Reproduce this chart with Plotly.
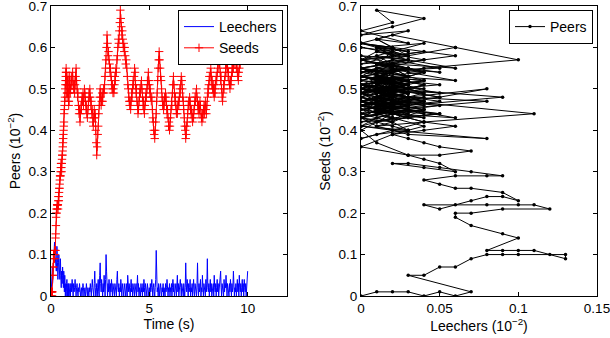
import numpy as np
import plotly.graph_objects as go

# sampling grid of the simulation (s): every 0.01 s during start-up, every 0.025 s afterwards
time_s = np.round(np.concatenate([np.linspace(0, 0.99, 100), np.linspace(1, 10, 361)]), 3)

seeds = [
    # 0.00 - 0.99 s
    0.00, 0.01, 0.01, 0.01, 0.00, 0.01, 0.00, 0.01, 0.05, 0.05,
    0.07, 0.07, 0.09, 0.10, 0.10, 0.10, 0.10, 0.10, 0.09, 0.11,
    0.11, 0.11, 0.11, 0.14, 0.15, 0.17, 0.19, 0.20, 0.20, 0.21,
    0.21, 0.22, 0.22, 0.22, 0.22, 0.22, 0.21, 0.23, 0.24, 0.24,
    0.23, 0.25, 0.26, 0.26, 0.27, 0.28, 0.29, 0.29, 0.29, 0.30,
    0.31, 0.32, 0.32, 0.31, 0.30, 0.32, 0.33, 0.34, 0.34, 0.35,
    0.36, 0.37, 0.38, 0.39, 0.40, 0.41, 0.42, 0.44, 0.45, 0.46,
    0.47, 0.48, 0.50, 0.51, 0.52, 0.53, 0.54, 0.55, 0.54, 0.52,
    0.51, 0.49, 0.48, 0.49, 0.51, 0.52, 0.53, 0.51, 0.49, 0.47,
    0.46, 0.47, 0.49, 0.51, 0.52, 0.53, 0.52, 0.50, 0.49, 0.50,
    # 1.000 - 1.975 s
    0.50, 0.51, 0.53, 0.52, 0.54, 0.51, 0.50, 0.52, 0.49, 0.51,
    0.53, 0.55, 0.52, 0.50, 0.48, 0.49, 0.46, 0.44, 0.45, 0.42,
    0.44, 0.46, 0.45, 0.48, 0.47, 0.49, 0.46, 0.48, 0.50, 0.49,
    0.47, 0.45, 0.46, 0.44, 0.43, 0.45, 0.47, 0.49, 0.48, 0.50,
    # 2.000 - 2.975 s
    0.48, 0.46, 0.47, 0.44, 0.45, 0.42, 0.41, 0.43, 0.45, 0.43,
    0.44, 0.40, 0.37, 0.34, 0.36, 0.39, 0.41, 0.44, 0.46, 0.48,
    0.50, 0.48, 0.46, 0.47, 0.49, 0.47, 0.49, 0.50, 0.49, 0.51,
    0.53, 0.55, 0.57, 0.60, 0.63, 0.61, 0.58, 0.59, 0.57, 0.56,
    # 3.000 - 3.975 s
    0.54, 0.55, 0.53, 0.52, 0.50, 0.51, 0.49, 0.50, 0.49, 0.51,
    0.53, 0.52, 0.55, 0.54, 0.57, 0.58, 0.60, 0.62, 0.61, 0.64,
    0.66, 0.69, 0.67, 0.65, 0.63, 0.64, 0.62, 0.60, 0.61, 0.59,
    0.60, 0.58, 0.56, 0.57, 0.55, 0.53, 0.51, 0.50, 0.48, 0.47,
    # 4.000 - 4.975 s
    0.46, 0.47, 0.45, 0.47, 0.49, 0.48, 0.50, 0.52, 0.51, 0.53,
    0.55, 0.54, 0.51, 0.49, 0.50, 0.47, 0.46, 0.44, 0.45, 0.47,
    0.48, 0.50, 0.49, 0.51, 0.52, 0.50, 0.48, 0.46, 0.47, 0.45,
    0.44, 0.46, 0.47, 0.49, 0.48, 0.50, 0.52, 0.51, 0.54, 0.52,
    # 5.000 - 5.975 s
    0.51, 0.49, 0.50, 0.48, 0.47, 0.48, 0.45, 0.43, 0.42, 0.40,
    0.39, 0.38, 0.40, 0.42, 0.44, 0.47, 0.49, 0.52, 0.55, 0.57,
    0.59, 0.57, 0.55, 0.53, 0.52, 0.50, 0.48, 0.46, 0.47, 0.45,
    0.46, 0.48, 0.47, 0.49, 0.48, 0.46, 0.44, 0.45, 0.43, 0.41,
    # 6.000 - 6.975 s
    0.42, 0.40, 0.41, 0.43, 0.45, 0.47, 0.46, 0.49, 0.51, 0.53,
    0.51, 0.49, 0.47, 0.48, 0.46, 0.44, 0.45, 0.44, 0.46, 0.47,
    0.46, 0.48, 0.50, 0.49, 0.51, 0.53, 0.52, 0.50, 0.48, 0.47,
    0.45, 0.43, 0.41, 0.40, 0.38, 0.39, 0.41, 0.42, 0.44, 0.46,
    # 7.000 - 7.975 s
    0.47, 0.46, 0.48, 0.47, 0.45, 0.44, 0.45, 0.43, 0.42, 0.44,
    0.43, 0.45, 0.46, 0.48, 0.47, 0.49, 0.50, 0.48, 0.47, 0.45,
    0.46, 0.44, 0.45, 0.47, 0.46, 0.44, 0.43, 0.42, 0.44, 0.43,
    0.45, 0.46, 0.44, 0.46, 0.47, 0.45, 0.44, 0.46, 0.48, 0.50,
    # 8.000 - 8.975 s
    0.49, 0.51, 0.53, 0.52, 0.54, 0.55, 0.53, 0.51, 0.52, 0.50,
    0.49, 0.51, 0.48, 0.50, 0.49, 0.51, 0.53, 0.52, 0.54, 0.56,
    0.55, 0.57, 0.59, 0.56, 0.54, 0.52, 0.53, 0.50, 0.48, 0.47,
    0.49, 0.51, 0.50, 0.52, 0.53, 0.55, 0.54, 0.56, 0.57, 0.55,
    # 9.000 - 9.975 s
    0.53, 0.54, 0.52, 0.51, 0.50, 0.52, 0.51, 0.53, 0.55, 0.54,
    0.56, 0.55, 0.57, 0.58, 0.56, 0.58, 0.57, 0.55, 0.56, 0.54,
    0.53, 0.52, 0.54, 0.55, 0.57, 0.56, 0.58, 0.60, 0.59, 0.61,
    0.60, 0.58, 0.57, 0.59, 0.58, 0.60, 0.59, 0.61, 0.60, 0.58,
    # 10.000 s
    0.60,
]

leechers = [
    # 0.00 - 0.99 s
    0.00, 0.01, 0.02, 0.03, 0.04, 0.05, 0.06, 0.07, 0.03, 0.04,
    0.05, 0.06, 0.07, 0.08, 0.09, 0.10, 0.12, 0.13, 0.13, 0.11,
    0.10, 0.09, 0.08, 0.10, 0.09, 0.07, 0.06, 0.06, 0.07, 0.09,
    0.12, 0.11, 0.10, 0.08, 0.06, 0.04, 0.05, 0.07, 0.08, 0.09,
    0.10, 0.09, 0.07, 0.06, 0.05, 0.04, 0.06, 0.08, 0.09, 0.07,
    0.05, 0.03, 0.02, 0.04, 0.06, 0.05, 0.04, 0.03, 0.05, 0.07,
    0.05, 0.04, 0.03, 0.02, 0.04, 0.06, 0.04, 0.02, 0.01, 0.03,
    0.05, 0.03, 0.01, 0.00, 0.02, 0.03, 0.01, 0.00, 0.01, 0.03,
    0.02, 0.04, 0.03, 0.01, 0.00, 0.02, 0.03, 0.01, 0.00, 0.02,
    0.03, 0.01, 0.00, 0.01, 0.02, 0.00, 0.01, 0.03, 0.02, 0.00,
    # 1.000 - 1.975 s
    0.02, 0.03, 0.01, 0.04, 0.02, 0.00, 0.03, 0.01, 0.02, 0.04,
    0.01, 0.00, 0.02, 0.03, 0.01, 0.00, 0.02, 0.01, 0.03, 0.02,
    0.00, 0.01, 0.02, 0.00, 0.01, 0.03, 0.02, 0.00, 0.01, 0.02,
    0.00, 0.01, 0.03, 0.01, 0.00, 0.02, 0.01, 0.00, 0.02, 0.01,
    # 2.000 - 2.975 s
    0.03, 0.01, 0.00, 0.02, 0.04, 0.02, 0.01, 0.00, 0.03, 0.06,
    0.02, 0.00, 0.01, 0.03, 0.00, 0.02, 0.04, 0.01, 0.00, 0.05,
    0.08, 0.03, 0.01, 0.04, 0.02, 0.00, 0.03, 0.01, 0.05, 0.02,
    0.00, 0.04, 0.10, 0.06, 0.02, 0.00, 0.03, 0.01, 0.04, 0.02,
    # 3.000 - 3.975 s
    0.00, 0.03, 0.01, 0.04, 0.02, 0.00, 0.03, 0.01, 0.02, 0.00,
    0.03, 0.01, 0.02, 0.00, 0.04, 0.06, 0.02, 0.01, 0.03, 0.00,
    0.02, 0.01, 0.04, 0.02, 0.00, 0.03, 0.01, 0.02, 0.00, 0.03,
    0.01, 0.02, 0.00, 0.03, 0.01, 0.00, 0.05, 0.02, 0.01, 0.03,
    # 4.000 - 4.975 s
    0.01, 0.00, 0.02, 0.04, 0.01, 0.03, 0.00, 0.02, 0.01, 0.03,
    0.00, 0.02, 0.01, 0.03, 0.00, 0.02, 0.05, 0.01, 0.03, 0.00,
    0.02, 0.01, 0.00, 0.03, 0.01, 0.02, 0.00, 0.03, 0.01, 0.04,
    0.02, 0.00, 0.03, 0.01, 0.02, 0.00, 0.03, 0.01, 0.02, 0.00,
    # 5.000 - 5.975 s
    0.02, 0.00, 0.03, 0.01, 0.02, 0.04, 0.01, 0.00, 0.02, 0.03,
    0.01, 0.00, 0.02, 0.04, 0.11, 0.03, 0.01, 0.02, 0.00, 0.03,
    0.01, 0.00, 0.02, 0.03, 0.01, 0.00, 0.02, 0.01, 0.03, 0.00,
    0.02, 0.01, 0.00, 0.03, 0.01, 0.02, 0.04, 0.01, 0.00, 0.02,
    # 6.000 - 6.975 s
    0.01, 0.03, 0.00, 0.02, 0.01, 0.03, 0.00, 0.02, 0.04, 0.01,
    0.03, 0.00, 0.02, 0.01, 0.03, 0.00, 0.02, 0.05, 0.01, 0.03,
    0.00, 0.02, 0.01, 0.04, 0.02, 0.00, 0.03, 0.01, 0.02, 0.00,
    0.03, 0.01, 0.00, 0.02, 0.08, 0.03, 0.01, 0.04, 0.02, 0.00,
    # 7.000 - 7.975 s
    0.03, 0.01, 0.02, 0.04, 0.00, 0.02, 0.01, 0.03, 0.00, 0.02,
    0.04, 0.01, 0.00, 0.03, 0.01, 0.02, 0.00, 0.03, 0.08, 0.02,
    0.00, 0.03, 0.01, 0.02, 0.04, 0.00, 0.02, 0.01, 0.05, 0.02,
    0.00, 0.03, 0.01, 0.02, 0.00, 0.04, 0.01, 0.03, 0.09, 0.02,
    # 8.000 - 8.975 s
    0.01, 0.03, 0.00, 0.02, 0.04, 0.01, 0.03, 0.00, 0.02, 0.01,
    0.03, 0.00, 0.05, 0.02, 0.01, 0.03, 0.00, 0.02, 0.04, 0.01,
    0.03, 0.00, 0.02, 0.01, 0.03, 0.06, 0.02, 0.00, 0.03, 0.01,
    0.02, 0.00, 0.04, 0.01, 0.03, 0.02, 0.05, 0.01, 0.00, 0.03,
    # 9.000 - 9.975 s
    0.01, 0.02, 0.00, 0.03, 0.01, 0.04, 0.02, 0.00, 0.03, 0.01,
    0.02, 0.06, 0.03, 0.00, 0.02, 0.01, 0.03, 0.00, 0.02, 0.04,
    0.01, 0.03, 0.00, 0.05, 0.02, 0.01, 0.03, 0.00, 0.02, 0.04,
    0.01, 0.03, 0.00, 0.04, 0.02, 0.01, 0.03, 0.00, 0.02, 0.03,
    # 10.000 s
    0.06,
]

assert len(seeds) == len(time_s) == len(leechers), (len(seeds), len(leechers), len(time_s))

left_xticks = [0, 5, 10]
right_xticks = [0, 0.05, 0.1, 0.15]
right_xticktext = ["0", "0.05", "0.1", "0.15"]
y_ticks = [0, 0.1, 0.2, 0.3, 0.4, 0.5, 0.6, 0.7]
y_ticktext = ["0", "0.1", "0.2", "0.3", "0.4", "0.5", "0.6", "0.7"]

FONT = dict(family="Liberation Sans, Arial, sans-serif", size=14, color="black")
TFONT = dict(family="Liberation Sans, Arial, sans-serif", size=13.5, color="black")
W, H = 610, 338
ML, MR, MT, MB = 51, 13, 6, 42
PW = W - ML - MR

fig = go.Figure()

fig.add_trace(go.Scatter(
    x=time_s, y=leechers, name="Leechers", mode="lines",
    line=dict(color="blue", width=1), xaxis="x", yaxis="y", legend="legend",
))
fig.add_trace(go.Scatter(
    x=time_s, y=seeds, name="Seeds", mode="lines+markers",
    line=dict(color="red", width=1),
    marker=dict(symbol="cross-thin", size=6, line=dict(color="red", width=1)),
    xaxis="x", yaxis="y", legend="legend",
))
fig.add_trace(go.Scatter(
    x=leechers, y=seeds, name="Peers", mode="lines+markers",
    line=dict(color="black", width=1),
    marker=dict(symbol="circle", size=3.5, color="black"),
    xaxis="x2", yaxis="y2", legend="legend2",
))

axis_common = dict(
    showgrid=False, zeroline=False, showline=True, linecolor="black", linewidth=1,
    mirror="ticks", ticks="inside", ticklen=4, tickcolor="black",
    tickfont=TFONT, title_font=FONT, automargin=False, ticklabeloverflow="allow",
)

YR = [0, 0.70001]
LEG_Y = 1 - 4 / (H - MT - MB)

fig.update_layout(
    width=W, height=H, margin=dict(l=ML, r=MR, t=MT, b=MB, pad=0),
    paper_bgcolor="white", plot_bgcolor="white", font=FONT,
    xaxis=dict(domain=[0, (287 - ML) / PW], range=[0, 12], tickvals=left_xticks,
               ticktext=[str(v) for v in left_xticks],
               title=dict(text="Time (s)", standoff=0), anchor="y", **axis_common),
    yaxis=dict(domain=[0, 1], range=YR, tickvals=y_ticks, ticktext=y_ticktext,
               title=dict(text="Peers (10<sup>−2</sup>)", standoff=4), anchor="x", **axis_common),
    xaxis2=dict(domain=[(361 - ML) / PW, 1], range=[0, 0.15], tickvals=right_xticks,
                ticktext=right_xticktext,
                title=dict(text="Leechers (10<sup>−2</sup>)", standoff=0), anchor="y2", **axis_common),
    yaxis2=dict(domain=[0, 1], range=YR, tickvals=y_ticks, ticktext=y_ticktext,
                title=dict(text="Seeds (10<sup>−2</sup>)", standoff=4), anchor="x2", **axis_common),
    legend=dict(x=(283 - ML) / PW, y=LEG_Y, xanchor="right", yanchor="top",
                bgcolor="white", bordercolor="black", borderwidth=1,
                font=FONT, itemwidth=30, tracegroupgap=0),
    legend2=dict(x=(593 - ML) / PW, y=LEG_Y, xanchor="right", yanchor="top",
                 bgcolor="white", bordercolor="black", borderwidth=1,
                 font=FONT, itemwidth=30),
    showlegend=True,
)

fig.write_html("out.html", config={"displayModeBar": False},
               post_script="document.body.style.margin='0';")
